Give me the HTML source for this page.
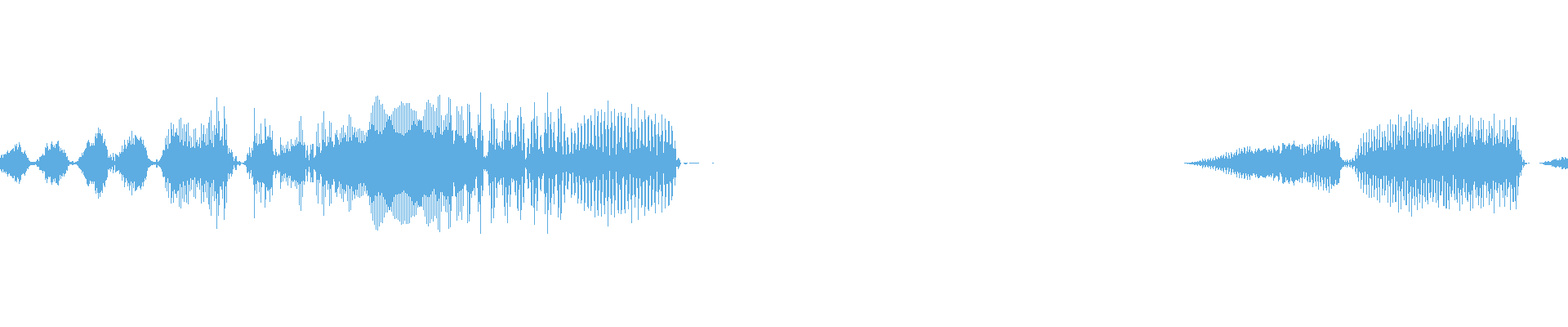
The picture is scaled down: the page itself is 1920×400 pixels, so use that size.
<!DOCTYPE html>
<html lang="en">
<head>
<meta charset="utf-8">
<title>Waveform</title>
<style>
html,body{margin:0;padding:0;background:#fff;}
body{width:1920px;height:400px;overflow:hidden;}
svg{display:block;}
</style>
</head>
<body>
<svg width="1920" height="400" viewBox="0 0 1920 400" shape-rendering="crispEdges">
<path d="M0.5 193V207M1.5 190V209M2.5 189V211M3.5 193V207M4.5 189V211M5.5 189V210M6.5 188V212M7.5 189V210M8.5 186V213M9.5 184V216M10.5 187V213M11.5 187V212M12.5 185V215M13.5 184V215M14.5 183V216M15.5 182V218M16.5 181V218M17.5 185V215M18.5 177V222M19.5 179V221M20.5 176V223M21.5 183V217M22.5 180V219M23.5 174V225M24.5 177V222M25.5 180V220M26.5 186V214M27.5 186V213M28.5 188V212M29.5 186V213M30.5 184V215M31.5 188V211M32.5 190V209M33.5 193V206M34.5 193V207M35.5 196V204M36.5 197V203M37.5 198V202M38.5 198V202M39.5 198V202M40.5 198V202M41.5 198V202M42.5 198V202M43.5 198V201M44.5 197V202M45.5 195V204M46.5 195V204M47.5 197V204M48.5 192V208M49.5 192V208M50.5 191V208M51.5 190V209M52.5 188V212M53.5 190V209M54.5 190V210M55.5 180V220M56.5 181V218M57.5 175V224M58.5 179V219M59.5 184V216M60.5 182V217M61.5 183V216M62.5 176V223M63.5 173V226M64.5 177V223M65.5 180V219M66.5 178V222M67.5 181V218M68.5 176V224M69.5 176V224M70.5 173V226M71.5 172V227M72.5 179V221M73.5 185V214M74.5 181V219M75.5 184V215M76.5 183V216M77.5 187V212M78.5 183V216M79.5 187V213M80.5 187V212M81.5 192V208M82.5 191V209M83.5 196V203M84.5 196V203M85.5 198V201M86.5 198V201M87.5 198V201M88.5 197V202M89.5 197V202M90.5 199V201M91.5 199V201M92.5 198V201M93.5 198V201M94.5 197V202M95.5 197V203M96.5 194V205M97.5 192V206M98.5 192V207M99.5 192V208M100.5 187V212M101.5 190V210M102.5 186V214M103.5 184V216M104.5 182V218M105.5 181V219M106.5 175V225M107.5 173V227M108.5 171V228M109.5 174V225M110.5 179V221M111.5 178V222M112.5 175V225M113.5 178V222M114.5 175V225M115.5 178V222M116.5 167V233M117.5 163V237M118.5 169V230M119.5 163V236M120.5 156V243M121.5 163V236M122.5 158V241M123.5 164V235M124.5 166V233M125.5 163V236M126.5 175V224M127.5 173V227M128.5 170V229M129.5 178V221M130.5 179V220M131.5 183V217M132.5 193V207M133.5 191V208M134.5 193V206M135.5 189V210M136.5 192V207M137.5 196V204M138.5 187V212M139.5 192V208M140.5 197V202M141.5 188V211M142.5 189V210M143.5 190V209M144.5 190V209M145.5 192V208M146.5 186V213M147.5 188V211M148.5 186V213M149.5 178V221M150.5 186V214M151.5 182V217M152.5 171V229M153.5 177V223M154.5 182V218M155.5 179V221M156.5 171V228M157.5 175V224M158.5 167V233M159.5 172V227M160.5 177V222M161.5 160V239M162.5 176V224M163.5 169V230M164.5 177V222M165.5 165V234M166.5 166V233M167.5 168V232M168.5 170V229M169.5 171V228M170.5 172V227M171.5 169V230M172.5 167V232M173.5 171V228M174.5 176V223M175.5 171V228M176.5 178V222M177.5 181V218M178.5 180V220M179.5 184V216M180.5 190V209M181.5 194V205M182.5 194V205M183.5 195V204M184.5 196V203M185.5 197V202M186.5 197V202M187.5 198V202M188.5 198V201M189.5 198V202M190.5 198V201M191.5 195V205M192.5 195V205M193.5 198V202M194.5 197V203M195.5 196V204M196.5 194V205M197.5 192V207M198.5 190V210M199.5 184V216M200.5 183V217M201.5 184V216M202.5 169V230M203.5 177V223M204.5 166V234M205.5 182V218M206.5 158V242M207.5 176V224M208.5 175V224M209.5 150V249M210.5 158V242M211.5 166V234M212.5 152V248M213.5 167V232M214.5 162V237M215.5 162V237M216.5 157V242M217.5 165V234M218.5 166V233M219.5 146V253M220.5 174V225M221.5 144V255M222.5 171V229M223.5 157V243M224.5 178V222M225.5 152V247M226.5 173V227M227.5 161V238M228.5 152V248M229.5 179V221M230.5 150V250M231.5 173V226M232.5 166V234M233.5 181V218M234.5 168V232M235.5 180V220M236.5 179V220M237.5 158V241M238.5 181V217M239.5 157V243M240.5 174V225M241.5 171V229M242.5 179V221M243.5 176V224M244.5 168V232M245.5 181V218M246.5 151V249M247.5 172V227M248.5 164V235M249.5 153V247M250.5 174V225M251.5 164V235M252.5 178V221M253.5 157V242M254.5 177V223M255.5 150V250M256.5 143V256M257.5 171V229M258.5 135V264M259.5 175V224M260.5 160V240M261.5 180V220M262.5 153V246M263.5 165V234M264.5 157V243M265.5 119V280M266.5 163V237M267.5 136V264M268.5 148V251M269.5 172V228M270.5 171V228M271.5 167V232M272.5 157V243M273.5 178V222M274.5 130V269M275.5 145V255M276.5 171V228M277.5 152V248M278.5 178V222M279.5 188V212M280.5 181V219M281.5 186V213M282.5 187V212M283.5 183V216M284.5 186V213M285.5 192V207M286.5 197V202M287.5 194V205M288.5 191V208M289.5 191V208M290.5 197V202M291.5 198V201M292.5 197V202M293.5 197V203M294.5 198V202M295.5 199V200M296.5 199V200M297.5 199V201M298.5 199V201M299.5 197V202M300.5 197V202M301.5 196V204M302.5 189V211M303.5 187V212M304.5 190V210M305.5 180V219M306.5 187V212M307.5 192V208M308.5 181V218M309.5 184V216M310.5 173V226M311.5 132V267M312.5 166V233M313.5 175V225M314.5 163V237M315.5 178V221M316.5 176V223M317.5 164V235M318.5 176V223M319.5 151V248M320.5 171V229M321.5 176V223M322.5 175V224M323.5 175V225M324.5 145V254M325.5 155V244M326.5 171V229M327.5 167V233M328.5 166V234M329.5 168V232M330.5 153V247M331.5 168V231M332.5 171V229M333.5 160V239M334.5 185V214M335.5 189V210M336.5 190V209M337.5 182V218M338.5 186V213M339.5 191V208M340.5 190V210M341.5 188V212M342.5 190V210M343.5 168V231M344.5 177V223M345.5 184V215M346.5 178V222M347.5 187V213M348.5 181V218M349.5 187V212M350.5 177V222M351.5 182V217M352.5 173V227M353.5 185V215M354.5 182V218M355.5 185V215M356.5 170V230M357.5 179V221M358.5 176V223M359.5 178V222M360.5 179V220M361.5 171V228M362.5 178V221M363.5 168V231M364.5 176V223M365.5 173V226M366.5 148V251M367.5 174V225M368.5 142V258M369.5 177V222M370.5 159V241M371.5 178V221M372.5 174V226M373.5 177V222M374.5 193V207M375.5 184V215M376.5 178V222M377.5 190V210M378.5 196V204M379.5 188V211M380.5 177V223M381.5 183V217M382.5 176V223M383.5 176V223M384.5 193V207M385.5 192V208M386.5 190V210M387.5 161V239M388.5 179V220M389.5 151V249M390.5 180V220M391.5 175V224M392.5 187V213M393.5 184V216M394.5 150V250M395.5 171V228M396.5 136V264M397.5 174V226M398.5 158V241M399.5 179V221M400.5 178V221M401.5 167V232M402.5 174V225M403.5 148V252M404.5 168V231M405.5 150V249M406.5 173V226M407.5 173V226M408.5 180V219M409.5 177V222M410.5 163V236M411.5 165V235M412.5 159V241M413.5 168V231M414.5 171V229M415.5 177V222M416.5 163V237M417.5 174V225M418.5 156V243M419.5 169V231M420.5 153V247M421.5 168V232M422.5 162V237M423.5 165V234M424.5 173V226M425.5 154V246M426.5 173V227M427.5 140V259M428.5 168V231M429.5 143V257M430.5 172V228M431.5 155V245M432.5 165V234M433.5 162V238M434.5 156V243M435.5 168V232M436.5 161V239M437.5 168V232M438.5 158V241M439.5 174V225M440.5 157V242M441.5 175V224M442.5 160V240M443.5 172V228M444.5 160V239M445.5 175V224M446.5 165V234M447.5 173V227M448.5 162V237M449.5 167V233M450.5 159V240M451.5 159V239M452.5 149V251M453.5 158V241M454.5 138V261M455.5 152V248M456.5 129V270M457.5 153V246M458.5 125V275M459.5 160V239M460.5 118V281M461.5 159V240M462.5 117V282M463.5 164V235M464.5 122V277M465.5 161V239M466.5 128V272M467.5 164V236M468.5 127V273M469.5 159V241M470.5 134V266M471.5 156V244M472.5 139V260M473.5 149V250M474.5 140V260M475.5 146V253M476.5 142V257M477.5 142V257M478.5 147V253M479.5 140V259M480.5 153V247M481.5 136V264M482.5 158V241M483.5 132V268M484.5 162V238M485.5 133V267M486.5 162V238M487.5 131V269M488.5 163V237M489.5 129V271M490.5 163V237M491.5 124V275M492.5 165V235M493.5 126V274M494.5 166V233M495.5 129V270M496.5 163V236M497.5 126V274M498.5 162V237M499.5 126V274M500.5 159V240M501.5 126V273M502.5 159V241M503.5 133V266M504.5 153V246M505.5 135V264M506.5 148V251M507.5 135V265M508.5 152V248M509.5 136V263M510.5 154V246M511.5 146V254M512.5 148V251M513.5 146V253M514.5 147V253M515.5 148V252M516.5 147V253M517.5 158V241M518.5 142V257M519.5 162V238M520.5 134V265M521.5 161V239M522.5 125V274M523.5 159V241M524.5 122V277M525.5 159V241M526.5 126V273M527.5 162V238M528.5 131V268M529.5 165V234M530.5 128V271M531.5 169V231M532.5 136V264M533.5 162V238M534.5 132V267M535.5 154V246M536.5 118V281M537.5 156V243M538.5 116V284M539.5 164V235M540.5 141V259M541.5 165V235M542.5 161V239M543.5 147V252M544.5 159V240M545.5 141V259M546.5 155V244M547.5 139V260M548.5 159V240M549.5 119V280M550.5 150V250M551.5 121V278M552.5 141V258M553.5 160V240M554.5 159V240M555.5 176V223M556.5 172V228M557.5 160V240M558.5 159V241M559.5 130V270M560.5 164V236M561.5 136V264M562.5 166V234M563.5 140V259M564.5 166V233M565.5 130V269M566.5 169V231M567.5 147V252M568.5 172V227M569.5 175V225M570.5 174V226M571.5 166V233M572.5 127V273M573.5 164V235M574.5 128V271M575.5 137V262M576.5 162V237M577.5 157V242M578.5 166V234M579.5 167V233M580.5 170V230M581.5 160V239M582.5 180V219M583.5 183V216M584.5 169V230M585.5 140V259M586.5 153V247M587.5 150V250M588.5 113V286M589.5 172V227M590.5 159V240M591.5 166V233M592.5 192V207M593.5 191V209M594.5 193V207M595.5 190V210M596.5 191V209M597.5 186V213M598.5 172V227M599.5 160V239M600.5 175V224M601.5 127V273M602.5 145V255M603.5 177V222M604.5 133V267M605.5 146V254M606.5 183V217M607.5 170V230M608.5 157V242M609.5 175V224M610.5 178V222M611.5 174V226M612.5 179V220M613.5 181V218M614.5 173V226M615.5 160V239M616.5 183V217M617.5 147V253M618.5 136V264M619.5 171V229M620.5 151V248M621.5 126V273M622.5 162V238M623.5 172V227M624.5 147V253M625.5 162V238M626.5 182V218M627.5 177V223M628.5 180V219M629.5 179V221M630.5 164V235M631.5 161V239M632.5 178V221M633.5 144V255M634.5 141V258M635.5 167V232M636.5 173V226M637.5 131V269M638.5 143V257M639.5 184V216M640.5 158V241M641.5 151V248M642.5 175V224M643.5 195V205M644.5 193V207M645.5 180V219M646.5 169V231M647.5 170V230M648.5 188V212M649.5 176V223M650.5 149V251M651.5 147V252M652.5 180V220M653.5 145V254M654.5 125V275M655.5 163V237M656.5 170V230M657.5 142V258M658.5 154V246M659.5 183V216M660.5 182V218M661.5 167V232M662.5 165V234M663.5 180V219M664.5 185V215M665.5 188V212M666.5 162V237M667.5 138V262M668.5 158V241M669.5 163V236M670.5 113V286M671.5 143V257M672.5 181V218M673.5 152V248M674.5 137V263M675.5 158V242M676.5 180V219M677.5 162V237M678.5 149V250M679.5 172V228M680.5 185V214M681.5 186V213M682.5 167V233M683.5 133V266M684.5 145V254M685.5 174V226M686.5 130V269M687.5 139V261M688.5 179V221M689.5 189V211M690.5 161V238M691.5 151V248M692.5 172V227M693.5 189V210M694.5 168V231M695.5 168V232M696.5 177V222M697.5 188V212M698.5 186V213M699.5 157V242M700.5 162V238M701.5 188V211M702.5 176V224M703.5 160V239M704.5 163V236M705.5 183V216M706.5 177V223M707.5 150V249M708.5 156V243M709.5 184V215M710.5 174V226M711.5 151V249M712.5 154V245M713.5 181V219M714.5 177V222M715.5 141V258M716.5 151V248M717.5 182V217M718.5 176V224M719.5 146V253M720.5 145V255M721.5 179V221M722.5 175V224M723.5 141V258M724.5 148V252M725.5 177V223M726.5 179V220M727.5 153V246M728.5 133V266M729.5 166V233M730.5 183V216M731.5 142V257M732.5 136V264M733.5 167V233M734.5 180V220M735.5 150V249M736.5 134V265M737.5 164V235M738.5 186V213M739.5 148V251M740.5 137V262M741.5 158V242M742.5 179V220M743.5 153V246M744.5 123V277M745.5 158V241M746.5 190V209M747.5 156V243M748.5 136V263M749.5 150V249M750.5 181V219M751.5 160V239M752.5 133V266M753.5 154V245M754.5 189V210M755.5 176V224M756.5 142V257M757.5 138V261M758.5 174V226M759.5 168V232M760.5 137V262M761.5 142V257M762.5 181V218M763.5 183V216M764.5 144V256M765.5 138V261M766.5 174V226M767.5 180V220M768.5 154V246M769.5 144V256M770.5 162V237M771.5 187V213M772.5 156V244M773.5 127V273M774.5 161V239M775.5 183V217M776.5 161V238M777.5 145V254M778.5 159V241M779.5 182V218M780.5 170V230M781.5 131V269M782.5 156V243M783.5 181V218M784.5 172V228M785.5 146V254M786.5 149V251M787.5 176V223M788.5 178V222M789.5 135V264M790.5 146V253M791.5 180V220M792.5 179V221M793.5 143V256M794.5 141V258M795.5 172V227M796.5 185V215M797.5 146V253M798.5 148V251M799.5 167V232M800.5 180V219M801.5 152V248M802.5 139V261M803.5 165V234M804.5 190V210M805.5 164V235M806.5 150V250M807.5 167V232M808.5 173V226M809.5 165V234M810.5 140V260M811.5 160V240M812.5 187V212M813.5 173V226M814.5 145V255M815.5 159V241M816.5 174V225M817.5 174V225M818.5 148V252M819.5 148V251M820.5 177V222M821.5 176V224M822.5 154V245M823.5 160V240M824.5 181V219M825.5 182V217M826.5 172V227M827.5 182V217M828.5 196V204M829.5 195V204M830.5 193V207M831.5 194V205M832.5 196V203M833.5 199V201M837.5 199V200M838.5 199V201M839.5 199V201M840.5 199V201M841.5 199V200M844.5 199V200M845.5 199V200M846.5 199V200M847.5 199V200M848.5 199V200M849.5 199V200M850.5 199V200M851.5 199V200M852.5 199V200M853.5 199V200M854.5 199V200M855.5 199V200M872.5 199V200M873.5 199V200M1450.5 199V200M1451.5 199V200M1452.5 199V200M1453.5 199V200M1454.5 199V201M1455.5 199V200M1456.5 199V201M1457.5 199V201M1458.5 199V201M1459.5 198V201M1460.5 198V201M1461.5 199V201M1462.5 198V202M1463.5 198V202M1464.5 198V201M1465.5 198V202M1466.5 197V203M1467.5 198V201M1468.5 197V202M1469.5 196V203M1470.5 197V203M1471.5 198V202M1472.5 194V206M1473.5 196V204M1474.5 197V202M1475.5 194V205M1476.5 196V204M1477.5 198V202M1478.5 195V204M1479.5 194V205M1480.5 196V203M1481.5 195V204M1482.5 193V207M1483.5 197V203M1484.5 195V205M1485.5 193V207M1486.5 196V204M1487.5 196V203M1488.5 191V209M1489.5 194V206M1490.5 195V205M1491.5 192V208M1492.5 193V207M1493.5 194V205M1494.5 191V208M1495.5 190V209M1496.5 193V206M1497.5 191V209M1498.5 189V211M1499.5 194V205M1500.5 191V208M1501.5 186V213M1502.5 192V208M1503.5 194V205M1504.5 187V213M1505.5 190V210M1506.5 194V206M1507.5 186V214M1508.5 188V211M1509.5 192V207M1510.5 189V211M1511.5 187V213M1512.5 190V210M1513.5 186V213M1514.5 183V217M1515.5 190V210M1516.5 188V212M1517.5 181V218M1518.5 188V211M1519.5 185V214M1520.5 182V218M1521.5 185V214M1522.5 187V212M1523.5 180V219M1524.5 181V218M1525.5 188V212M1526.5 185V215M1527.5 179V220M1528.5 186V213M1529.5 183V216M1530.5 179V220M1531.5 186V214M1532.5 184V215M1533.5 185V215M1534.5 187V212M1535.5 188V212M1536.5 185V214M1537.5 182V217M1538.5 186V213M1539.5 184V216M1540.5 182V218M1541.5 181V218M1542.5 183V217M1543.5 185V215M1544.5 184V215M1545.5 184V216M1546.5 183V217M1547.5 182V217M1548.5 182V217M1549.5 181V218M1550.5 183V216M1551.5 184V215M1552.5 186V214M1553.5 183V216M1554.5 183V216M1555.5 185V214M1556.5 182V217M1557.5 184V215M1558.5 187V212M1559.5 178V221M1560.5 181V218M1561.5 183V217M1562.5 185V215M1563.5 184V215M1564.5 183V216M1565.5 178V222M1566.5 179V220M1567.5 188V211M1568.5 187V213M1569.5 184V216M1570.5 175V224M1571.5 175V225M1572.5 177V223M1573.5 177V223M1574.5 182V217M1575.5 179V221M1576.5 179V220M1577.5 177V223M1578.5 175V225M1579.5 177V222M1580.5 183V217M1581.5 178V221M1582.5 177V222M1583.5 176V224M1584.5 172V227M1585.5 177V222M1586.5 179V220M1587.5 179V220M1588.5 179V221M1589.5 179V221M1590.5 180V219M1591.5 177V223M1592.5 182V217M1593.5 182V218M1594.5 176V224M1595.5 182V217M1596.5 190V210M1597.5 180V219M1598.5 182V217M1599.5 188V211M1600.5 179V221M1601.5 177V223M1602.5 184V216M1603.5 176V223M1604.5 177V223M1605.5 186V214M1606.5 180V220M1607.5 170V229M1608.5 176V224M1609.5 188V211M1610.5 177V222M1611.5 172V228M1612.5 186V214M1613.5 177V222M1614.5 167V232M1615.5 184V215M1616.5 177V223M1617.5 171V228M1618.5 182V217M1619.5 179V220M1620.5 166V233M1621.5 174V225M1622.5 182V217M1623.5 169V230M1624.5 166V233M1625.5 181V219M1626.5 171V228M1627.5 164V236M1628.5 183V216M1629.5 174V225M1630.5 169V231M1631.5 173V226M1632.5 172V227M1633.5 171V228M1634.5 174V225M1635.5 179V220M1636.5 173V226M1637.5 173V226M1638.5 175V224M1639.5 175V224M1640.5 181V218M1641.5 192V208M1642.5 193V207M1643.5 195V205M1644.5 196V204M1645.5 196V204M1646.5 198V202M1647.5 196V204M1648.5 198V202M1649.5 195V205M1650.5 197V203M1651.5 199V201M1652.5 196V204M1653.5 195V205M1654.5 198V202M1655.5 195V205M1656.5 193V207M1657.5 196V204M1658.5 197V203M1659.5 190V210M1660.5 186V213M1661.5 194V206M1662.5 182V217M1663.5 177V222M1664.5 190V210M1665.5 187V212M1666.5 169V231M1667.5 179V220M1668.5 189V211M1669.5 163V236M1670.5 174V226M1671.5 190V210M1672.5 174V226M1673.5 162V238M1674.5 186V213M1675.5 174V226M1676.5 158V242M1677.5 181V218M1678.5 180V219M1679.5 158V242M1680.5 173V227M1681.5 185V214M1682.5 159V241M1683.5 167V232M1684.5 184V215M1685.5 170V230M1686.5 154V245M1687.5 181V218M1688.5 171V229M1689.5 152V248M1690.5 180V219M1691.5 180V219M1692.5 161V239M1693.5 168V231M1694.5 184V215M1695.5 160V239M1696.5 167V233M1697.5 184V215M1698.5 174V226M1699.5 152V248M1700.5 178V221M1701.5 172V228M1702.5 146V253M1703.5 175V224M1704.5 180V219M1705.5 152V248M1706.5 161V238M1707.5 183V216M1708.5 152V247M1709.5 153V247M1710.5 177V222M1711.5 166V233M1712.5 140V260M1713.5 172V228M1714.5 166V234M1715.5 143V256M1716.5 168V231M1717.5 177V222M1718.5 160V240M1719.5 154V245M1720.5 182V217M1721.5 149V251M1722.5 148V251M1723.5 178V221M1724.5 162V237M1725.5 140V259M1726.5 164V235M1727.5 171V228M1728.5 134V265M1729.5 156V243M1730.5 171V229M1731.5 160V240M1732.5 148V251M1733.5 179V220M1734.5 158V241M1735.5 143V257M1736.5 169V231M1737.5 162V237M1738.5 151V248M1739.5 161V238M1740.5 179V220M1741.5 144V255M1742.5 161V239M1743.5 175V224M1744.5 159V241M1745.5 153V247M1746.5 181V218M1747.5 155V245M1748.5 150V250M1749.5 175V224M1750.5 164V236M1751.5 158V242M1752.5 165V235M1753.5 180V219M1754.5 152V247M1755.5 158V241M1756.5 179V220M1757.5 164V236M1758.5 152V248M1759.5 178V221M1760.5 154V245M1761.5 145V254M1762.5 177V222M1763.5 160V239M1764.5 161V239M1765.5 166V234M1766.5 184V215M1767.5 148V252M1768.5 148V252M1769.5 177V222M1770.5 145V255M1771.5 144V255M1772.5 175V224M1773.5 155V245M1774.5 143V256M1775.5 171V228M1776.5 162V237M1777.5 159V241M1778.5 167V233M1779.5 185V214M1780.5 163V237M1781.5 154V245M1782.5 180V219M1783.5 156V244M1784.5 152V248M1785.5 169V230M1786.5 164V236M1787.5 141V258M1788.5 167V232M1789.5 161V239M1790.5 150V250M1791.5 169V230M1792.5 180V219M1793.5 165V235M1794.5 157V242M1795.5 175V224M1796.5 155V245M1797.5 152V247M1798.5 165V235M1799.5 161V238M1800.5 141V258M1801.5 162V238M1802.5 167V233M1803.5 144V255M1804.5 174V226M1805.5 177V222M1806.5 167V232M1807.5 158V242M1808.5 171V229M1809.5 160V239M1810.5 148V251M1811.5 159V240M1812.5 169V230M1813.5 144V255M1814.5 158V242M1815.5 174V226M1816.5 147V253M1817.5 174V226M1818.5 177V222M1819.5 172V227M1820.5 158V242M1821.5 175V224M1822.5 166V234M1823.5 148V251M1824.5 163V237M1825.5 169V231M1826.5 154V246M1827.5 157V243M1828.5 178V221M1829.5 139V261M1830.5 168V232M1831.5 176V223M1832.5 166V233M1833.5 163V236M1834.5 170V230M1835.5 175V224M1836.5 147V253M1837.5 174V226M1838.5 174V226M1839.5 167V233M1840.5 158V242M1841.5 176V223M1842.5 146V253M1843.5 160V239M1844.5 180V219M1845.5 159V241M1846.5 168V231M1847.5 170V229M1848.5 176V223M1849.5 143V257M1850.5 173V226M1851.5 168V231M1852.5 153V247M1853.5 153V247M1854.5 170V229M1855.5 153V246M1856.5 144V256M1857.5 184V215M1858.5 161V239M1859.5 171V228M1860.5 182V217M1861.5 189V211M1862.5 184V215M1863.5 192V208M1864.5 198V202M1865.5 195V205M1866.5 196V203M1867.5 199V201M1868.5 199V201M1869.5 199V201M1871.5 199V200M1872.5 199V200M1885.5 199V200M1886.5 199V200M1887.5 199V200M1888.5 199V200M1889.5 199V201M1890.5 199V201M1891.5 198V202M1892.5 197V202M1893.5 198V202M1894.5 198V202M1895.5 197V202M1896.5 197V202M1897.5 198V202M1898.5 198V202M1899.5 197V202M1900.5 196V204M1901.5 196V203M1902.5 195V204M1903.5 195V204M1904.5 195V205M1905.5 194V205M1906.5 196V204M1907.5 196V203M1908.5 196V204M1909.5 194V205M1910.5 196V204M1911.5 195V204M1912.5 192V207M1913.5 192V207M1914.5 193V206M1915.5 195V205M1916.5 192V207M1917.5 193V207M1918.5 194V206M1919.5 194V206" fill="none" stroke="#5dade2" stroke-width="1"/>
</svg>
</body>
</html>
